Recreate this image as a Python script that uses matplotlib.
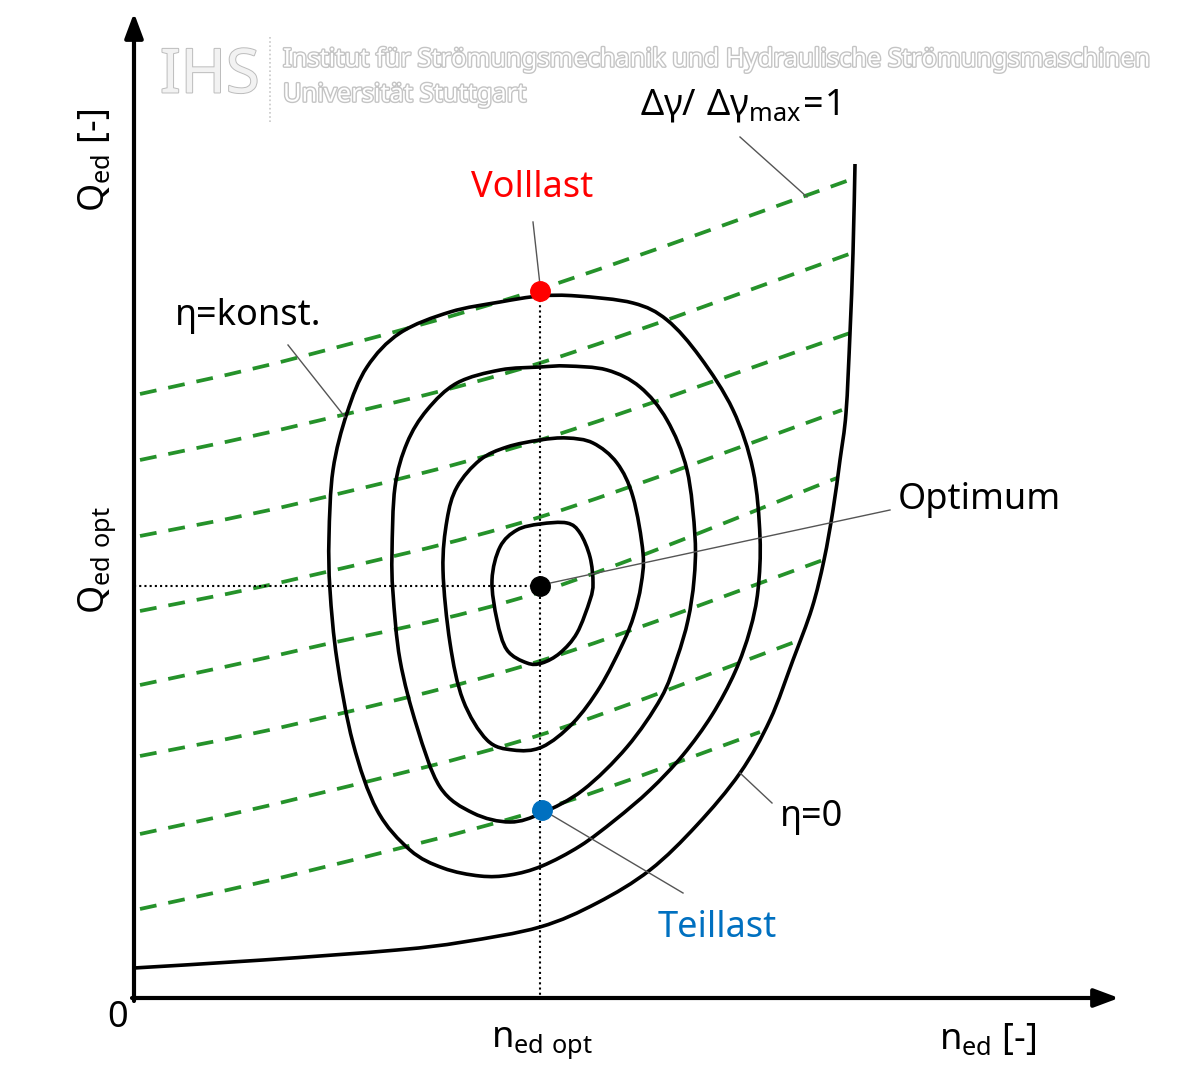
import matplotlib.pyplot as plt
import matplotlib.patheffects as pe
from matplotlib.path import Path
from matplotlib.patches import PathPatch

plt.rcParams['font.family'] = ['Noto Sans', 'DejaVu Sans']
plt.rcParams['mathtext.fontset'] = 'custom'
plt.rcParams['mathtext.rm'] = 'Noto Sans'

# hill chart data (n_ed, Q_ed in drawing units, origin at axis corner)
# eta = const. contours, outer to inner (closed)
c1_n = [406, 443, 499, 533, 566, 599, 619, 626, 624, 616, 601, 578, 549, 516, 481, 446,
        408, 376, 346, 309, 276, 243, 219, 203, 196, 195, 199, 213, 233, 266, 316, 366]
c1_q = [702, 702, 695, 678, 641, 588, 528, 461, 408, 368, 326, 283, 243, 208, 178, 152,
        132, 123, 122, 130, 148, 188, 255, 338, 408, 461, 528, 585, 631, 665, 686, 696]
c2_n = [406, 433, 473, 506, 533, 553, 561, 560, 554, 543, 527, 493, 449, 408, 376, 339,
        306, 283, 266, 259, 258, 261, 273, 293, 323, 366]
c2_q = [631, 632, 628, 611, 578, 528, 461, 418, 378, 340, 300, 251, 208, 185, 176, 185,
        211, 271, 338, 405, 445, 511, 555, 588, 615, 628]
c3_n = [406, 433, 459, 483, 499, 509, 507, 500, 489, 466, 439, 408, 379, 353, 329, 316, 309,
        313, 323, 346, 373]
c3_q = [558, 560, 555, 535, 501, 445, 413, 383, 355, 311, 275, 251, 248, 258, 298, 355, 428,
        478, 511, 538, 551]
c4_n = [406, 433, 446, 456, 459, 456, 443, 426, 408, 393, 373, 363, 358, 366, 383]
c4_q = [474, 475, 465, 441, 415, 398, 365, 345, 335, 335, 348, 378, 418, 451, 468]

# eta = 0 boundary
e0_n = [0, 129, 263, 329, 406, 463, 516, 563, 606, 636, 659, 678, 690, 699, 706, 712, 716,
        719, 721]
e0_q = [30, 38, 48, 56, 71, 95, 128, 173, 225, 278, 338, 390, 438, 488, 538, 585, 665,
        745, 834]

# lines of constant guide vane opening (dgamma / dgamma_max)
gv_n = [[6, 166, 406, 721],
        [6, 166, 406, 718],
        [6, 166, 406, 716],
        [6, 166, 406, 708],
        [6, 166, 406, 703],
        [6, 166, 406, 689],
        [6, 166, 406, 666],
        [6, 166, 406, 626]]
gv_q = [[604, 641, 709, 820],
        [538, 573, 635, 745],
        [462, 495, 558, 665],
        [387, 420, 481, 588],
        [313, 348, 406, 520],
        [242, 275, 337, 438],
        [164, 200, 263, 358],
        [89, 125, 188, 266]]

n_opt, q_opt = 406, 412
n_voll, q_voll = 406, 707
n_teil, q_teil = 408, 188


def smooth_path(ns, qs, closed=False):
    # catmull-rom through the read points, drawn as cubic bezier segments
    pts = list(zip(ns, qs))
    m = len(pts)
    if closed:
        get = lambda i: pts[i % m]
        segs = m
    else:
        get = lambda i: pts[min(max(i, 0), m - 1)]
        segs = m - 1
    verts = [pts[0]]
    codes = [Path.MOVETO]
    for i in range(segs):
        p0, p1, p2, p3 = get(i - 1), get(i), get(i + 1), get(i + 2)
        c1 = (p1[0] + (p2[0] - p0[0]) / 6, p1[1] + (p2[1] - p0[1]) / 6)
        c2 = (p2[0] - (p3[0] - p1[0]) / 6, p2[1] - (p3[1] - p1[1]) / 6)
        verts += [c1, c2, p2]
        codes += [Path.CURVE4] * 3
    return Path(verts, codes)


fig = plt.figure(figsize=(11.82, 10.87), dpi=100)
ax = fig.add_axes([0, 0, 1, 1])
ax.set_xlim(-134, 1048)
ax.set_ylim(-89, 998)
ax.axis('off')

# axes with arrows
arrow = dict(arrowstyle='-|>,head_length=0.75,head_width=0.28', lw=3, color='black',
             mutation_scale=20, shrinkA=0, shrinkB=0)
ax.annotate('', xy=(0, 985), xytext=(0, -3), arrowprops=arrow)
ax.annotate('', xy=(985, 0), xytext=(-2, 0), arrowprops=arrow)

# dotted helper lines
ax.plot([n_opt, n_opt], [-2, q_voll], color='black', lw=1.5, ls=(0, (1, 1.5)))
ax.plot([0, n_opt], [q_opt, q_opt], color='black', lw=1.5, ls=(0, (1, 1.5)))

for ns, qs in zip(gv_n, gv_q):
    ax.add_patch(PathPatch(smooth_path(ns, qs), fill=False, edgecolor='#25922a',
                           lw=2.7, ls=(0, (4.5, 3.2))))

for ns, qs in [(c1_n, c1_q), (c2_n, c2_q), (c3_n, c3_q), (c4_n, c4_q)]:
    ax.add_patch(PathPatch(smooth_path(ns, qs, closed=True), fill=False,
                           edgecolor='black', lw=2.6))
ax.add_patch(PathPatch(smooth_path(e0_n, e0_q), fill=False, edgecolor='black', lw=2.6))

# leader lines
lead = dict(color='#555555', lw=1.0)
ax.plot([406, 399], [713, 776], **lead)
ax.plot([606, 673], [861, 801], **lead)
ax.plot([154, 211], [653, 581], **lead)
ax.plot([407, 756], [413, 488], **lead)
ax.plot([606, 638], [225, 195], **lead)
ax.plot([409, 549], [188, 105], **lead)

ax.plot(n_opt, q_opt, 'o', color='black', ms=14)
ax.plot(n_voll, q_voll, 'o', color='#ff0000', ms=14)
ax.plot(n_teil, q_teil, 'o', color='#0070c0', ms=14)

fs = 26
ax.text(398, 810, 'Volllast', color='#ff0000', fontsize=fs, ha='center', va='center')
ax.text(524, 70, 'Teillast', color='#0070c0', fontsize=fs, ha='left', va='center')
ax.text(764, 498, 'Optimum', fontsize=fs, ha='left', va='center')
ax.text(646, 181, 'η=0', fontsize=fs, ha='left', va='center')
ax.text(41, 682, 'η=konst.', fontsize=fs, ha='left', va='center')
ax.text(506, 893, r'$\mathregular{Δγ/\ Δγ_{max}\!=\!1}$', fontsize=fs, ha='left', va='center')

ax.text(-39, 838, r'$\mathregular{Q_{ed}}$ [-]', fontsize=fs, rotation=90, ha='center', va='center')
ax.text(-37, 438, r'$\mathregular{Q_{ed\ opt}}$', fontsize=fs, rotation=90, ha='center', va='center')
ax.text(-16, -20, '0', fontsize=fs, ha='center', va='center')
ax.text(408, -45, r'$\mathregular{n_{ed\ opt}}$', fontsize=fs, ha='center', va='center')
ax.text(854, -42, r'$\mathregular{n_{ed}}$ [-]', fontsize=fs, ha='center', va='center')

# watermark
wm = [pe.withStroke(linewidth=2.0, foreground='#c4c4c4')]
ax.text(26, 921, 'IHS', fontsize=44, fontweight='light', color='#f2f2f2', ha='left',
        va='center', path_effects=[pe.withStroke(linewidth=1.4, foreground='#bcbcbc')])
ax.plot([136, 136], [876, 963], color='#c8c8c8', lw=1.2, ls=(0, (1, 1.5)))
ax.text(149, 938, 'Institut für Strömungsmechanik und Hydraulische Strömungsmaschinen',
        fontsize=18.3, fontweight='bold', color='white', ha='left', va='center', path_effects=wm)
ax.text(149, 903, 'Universität Stuttgart',
        fontsize=18.3, fontweight='bold', color='white', ha='left', va='center', path_effects=wm)

fig.savefig('out.png', dpi=100)
